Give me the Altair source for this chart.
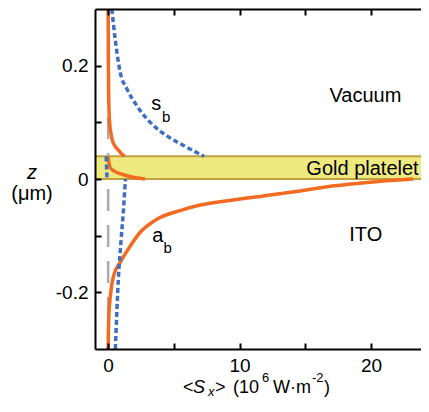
import altair as alt
import pandas as pd

FONT = "Liberation Sans"
ORANGE = "#f26b21"
BLUE = "#3f6fc2"
GOLD_FILL = "#eeea80"
GOLD_EDGE = "#bfa043"
GRAY = "#ababab"

# ---- curve values: z (µm) and <Sx> (1e6 W/m^2) ----
a_vac_z = [0.30, 0.20, 0.15, 0.12, 0.10, 0.08, 0.07, 0.06, 0.05, 0.045, 0.04]
a_vac_s = [0.00, 0.02, 0.04, 0.07, 0.11, 0.22, 0.30, 0.47, 0.82, 1.00, 1.25]
a_gold_z = [0.04, 0.03, 0.02, 0.013, 0.008, 0.003, 0.0]
a_gold_s = [0.00, 0.05, 0.16, 0.54, 1.10, 1.90, 2.80]
a_ito_z = [0.0, -0.006, -0.012, -0.021, -0.029, -0.037, -0.046, -0.055, -0.071,
           -0.094, -0.123, -0.147, -0.171, -0.20, -0.244, -0.30]
a_ito_s = [23.2, 19.7, 17.2, 14.6, 12.1, 9.5, 7.0, 5.6, 3.7,
           2.44, 1.55, 0.92, 0.41, 0.20, 0.05, 0.0]

s_vac_z = [0.30, 0.246, 0.188, 0.159, 0.129, 0.10, 0.076, 0.059, 0.04]
s_vac_s = [0.28, 0.54, 0.92, 1.43, 2.19, 3.20, 4.47, 5.74, 7.30]
s_gold_z = [0.04, 0.02, 0.0]
s_gold_s = [-0.15, -0.12, -0.08]
s_ito_z = [0.0, -0.006, -0.053, -0.112, -0.171, -0.30]
s_ito_s = [1.32, 1.30, 1.17, 0.97, 0.79, 0.55]

band_z = [0.0, 0.04]          # gold platelet
x_ticks = [0, 5, 10, 15, 20]
x_labels = [0, 10, 20]
y_ticks = [-0.2, -0.1, 0, 0.1, 0.2]
y_labels = [-0.2, 0, 0.2]

XDOM = [-1, 23.8]
YDOM = [-0.3, 0.3]
W, H = 326, 340


def seg(zs, ss, name):
    return pd.DataFrame({"z": zs, "s": ss, "seg": name})


orange_df = pd.concat([seg(a_vac_z, a_vac_s, "vac"), seg(a_gold_z, a_gold_s, "gold"),
                       seg(a_ito_z, a_ito_s, "ito")], ignore_index=True)
blue_df = pd.concat([seg(s_vac_z, s_vac_s, "vac"), seg(s_gold_z, s_gold_s, "gold"),
                     seg(s_ito_z, s_ito_s, "ito")], ignore_index=True)
band_df = pd.DataFrame({"x0": [XDOM[0]], "x1": [XDOM[1]], "z0": [band_z[0]], "z1": [band_z[1]]})
edge_df = pd.DataFrame({"z": band_z})
zero_df = pd.DataFrame({"s": [0]})

xs = alt.Scale(domain=XDOM, nice=False, zero=False)
ys = alt.Scale(domain=YDOM, nice=False, zero=False)

LBL = "datum.value > 0 ? format(datum.value, '.1f') : (datum.value < 0 ? '-' + format(-datum.value, '.1f') : '0')"

band = alt.Chart(band_df).mark_rect(color=GOLD_FILL).encode(
    x=alt.X("x0:Q", scale=xs, axis=alt.Axis(
        orient="bottom", values=x_labels, ticks=False, domain=True, domainColor="black",
        domainWidth=2, labelFontSize=19, labelPadding=7, labelFont=FONT, labelColor="black",
        title=None, grid=False, zindex=2, labelFlush=False, format="d")),
    x2="x1:Q",
    y=alt.Y("z0:Q", scale=ys, axis=alt.Axis(
        orient="left", values=y_labels, ticks=False, domain=True, domainColor="black",
        domainWidth=2, labelFontSize=19, labelPadding=7, labelFont=FONT, labelColor="black",
        title=None, grid=False, zindex=2, labelFlush=False, labelExpr=LBL)),
    y2="z1:Q",
)

edges = alt.Chart(edge_df).mark_rule(color=GOLD_EDGE, strokeWidth=2).encode(
    y=alt.Y("z:Q", scale=ys, axis=None))

gray = alt.Chart(zero_df).mark_rule(color=GRAY, strokeWidth=2.5, strokeDash=[22, 14]).encode(
    x=alt.X("s:Q", scale=xs, axis=alt.Axis(
        orient="top", offset=-H, values=x_ticks, labels=False, domain=False, ticks=True,
        tickSize=6, tickWidth=2, tickColor="black", title=None, grid=False, zindex=2)))

orange = alt.Chart(orange_df).mark_line(
    color=ORANGE, strokeWidth=3.5, interpolate="monotone").encode(
    x=alt.X("s:Q", scale=xs, axis=alt.Axis(
        orient="bottom", offset=-H, values=x_ticks, labels=False, domain=True,
        domainColor="black", domainWidth=2, ticks=True, tickSize=6, tickWidth=2,
        tickColor="black", title=None, grid=False, zindex=2)),
    y=alt.Y("z:Q", scale=ys, axis=alt.Axis(
        orient="right", offset=-W, values=y_ticks, labels=False, domain=False, ticks=True,
        tickSize=6, tickWidth=2, tickColor="black", title=None, grid=False, zindex=2)),
    detail="seg:N",
    order=alt.Order("s:Q"),
)

blue = alt.Chart(blue_df).mark_line(
    color=BLUE, strokeWidth=3.5, strokeDash=[5, 3], interpolate="monotone").encode(
    x=alt.X("s:Q", scale=xs, axis=None),
    y=alt.Y("z:Q", scale=ys, axis=None),
    detail="seg:N",
    order=alt.Order("s:Q"),
)

# annotations in data coordinates
ann_df = pd.DataFrame({
    "t": ["s", "a", "Vacuum", "Gold platelet", "ITO"],
    "s": [3.66, 3.77, 19.57, 19.35, 19.6],
    "z": [0.122, -0.111, 0.136, 0.007, -0.11],
})
sub_df = pd.DataFrame({"t": ["b", "b"], "s": [4.42, 4.53], "z": [0.10, -0.131]})

ann = alt.Chart(ann_df).mark_text(fontSize=20, font=FONT, color="black", baseline="alphabetic").encode(
    x=alt.X("s:Q", scale=xs, axis=None), y=alt.Y("z:Q", scale=ys, axis=None), text="t:N")
sub = alt.Chart(sub_df).mark_text(fontSize=15, font=FONT, color="black", baseline="alphabetic").encode(
    x=alt.X("s:Q", scale=xs, axis=None), y=alt.Y("z:Q", scale=ys, axis=None), text="t:N")

dummy = pd.DataFrame({"a": [0]})


def txt(s, x, y, size=18, style="normal", align="left"):
    return alt.Chart(dummy).mark_text(
        text=s, fontSize=size, fontStyle=style, font=FONT, align=align,
        baseline="alphabetic", color="black").encode(x=alt.value(x), y=alt.value(y))


title_parts = [
    txt("<", 88, 384),
    txt("S", 98, 384, style="italic"),
    txt("x", 113, 387, size=13, style="italic"),
    txt(">", 120, 384),
    txt("(10", 138, 384),
    txt("6", 167, 373, size=13),
    txt("W\u00b7m", 178, 384),
    txt("-2", 217, 373, size=13),
    txt(")", 229, 384),
    txt("z", -63, 170, size=20, style="italic", align="center"),
    txt("(\u03bcm)", -63, 191, size=20, align="center"),
]

chart = alt.layer(gray, band, edges, orange, blue, ann, sub, *title_parts).resolve_axis(
    x="independent", y="independent"
).properties(
    width=W, height=H,
    autosize=alt.AutoSizeParams(type="none"),
    padding={"left": 87, "top": 1, "right": 0, "bottom": 50},
    background="white",
).configure_view(stroke=None)

chart.save("out.html", embed_options={"renderer": "svg", "actions": False})
